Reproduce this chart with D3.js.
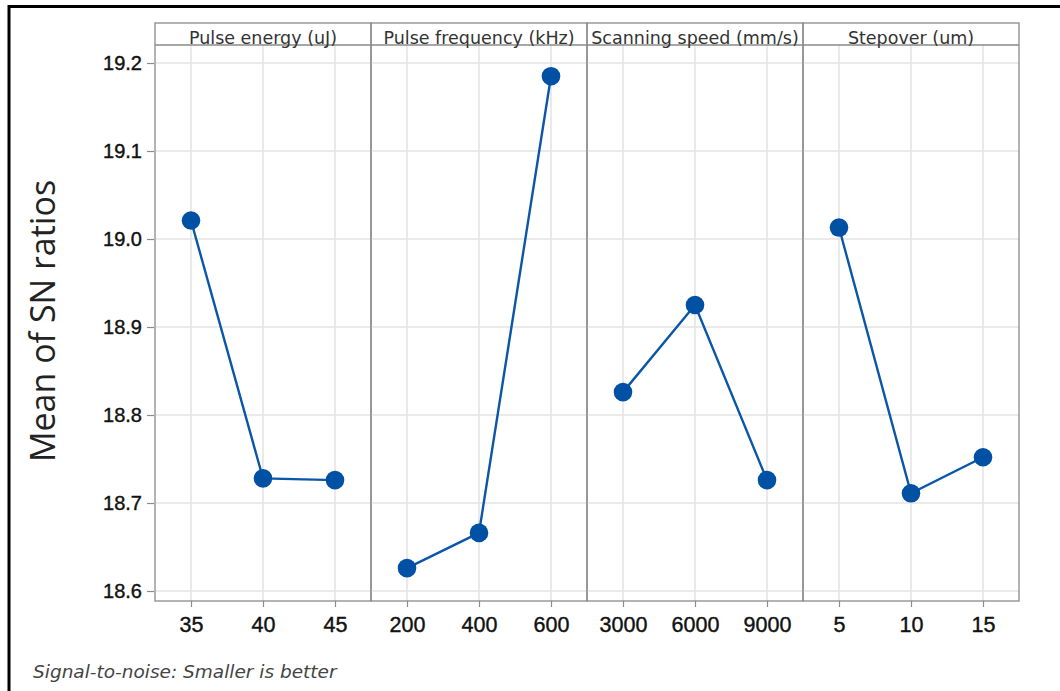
<!DOCTYPE html>
<html><head><meta charset="utf-8">
<script src="https://cdn.jsdelivr.net/npm/d3@7"></script>
<style>
body{margin:0;background:#fff;}
svg{display:block;font-family:"Open Sans","Noto Sans",sans-serif;}
</style></head>
<body><svg id="c" width="1060" height="691"></svg>
<script>
const factors = ["Pulse energy (uJ)", "Pulse frequency (kHz)", "Scanning speed (mm/s)", "Stepover (um)"];
const levels = [["35","40","45"],["200","400","600"],["3000","6000","9000"],["5","10","15"]];
const snMeans = [
  [19.021, 18.728, 18.726],
  [18.626, 18.666, 19.185],
  [18.826, 18.925, 18.726],
  [19.013, 18.711, 18.752]
];
const yTicks = [18.6, 18.7, 18.8, 18.9, 19.0, 19.1, 19.2];
const yTitle = "Mean of SN ratios";
const footnote = "Signal-to-noise: Smaller is better";

const svg = d3.select("#c");
const L = 155, panelW = 216, pTop = 23, headH = 22, pBottom = 601;
const y = d3.scaleLinear().domain([18.6, 19.2]).range([591, 63]);

svg.append("rect").attr("x",9).attr("y",6.5).attr("width",1100).attr("height",720)
  .attr("fill","none").attr("stroke","#000").attr("stroke-width",3);

const gridC = "#e3e3e3", frameC = "#8a8a8a", lineC = "#0c56a8", dotC = "#0050a4";

factors.forEach((f, i) => {
  const x0 = L + i*panelW;
  const x = d3.scalePoint().domain(levels[i]).range([x0, x0+panelW]).padding(0.5);
  const g = svg.append("g");
  g.selectAll(".hg").data(yTicks).enter().append("line")
    .attr("x1",x0).attr("x2",x0+panelW).attr("y1",d=>y(d)).attr("y2",d=>y(d))
    .attr("stroke",gridC).attr("stroke-width",1.5);
  g.selectAll(".vg").data(levels[i]).enter().append("line")
    .attr("x1",d=>x(d)).attr("x2",d=>x(d)).attr("y1",pTop+headH).attr("y2",pBottom)
    .attr("stroke",gridC).attr("stroke-width",1.5);
  const ax = d3.axisBottom(x).tickSize(6).tickPadding(10);
  const axg = svg.append("g").attr("transform",`translate(0,${pBottom})`).call(ax);
  axg.select(".domain").remove();
  axg.selectAll("line").attr("stroke",frameC).attr("stroke-width",1.2);
  axg.selectAll("text").attr("font-size",21.5).attr("fill","#111")
    .attr("stroke","#111").attr("stroke-width",0.4);
  const pts = levels[i].map((l,j)=>[x(l), y(snMeans[i][j])]);
  g.append("path").attr("d", d3.line()(pts)).attr("fill","none")
    .attr("stroke",lineC).attr("stroke-width",2.4);
  g.selectAll("circle").data(pts).enter().append("circle")
    .attr("cx",d=>d[0]).attr("cy",d=>d[1]).attr("r",9.3).attr("fill",dotC);
  svg.append("rect").attr("x",x0).attr("y",pTop).attr("width",panelW).attr("height",pBottom-pTop)
    .attr("fill","none").attr("stroke",frameC).attr("stroke-width",1.3);
  svg.append("line").attr("x1",x0).attr("x2",x0+panelW).attr("y1",pTop+headH).attr("y2",pTop+headH)
    .attr("stroke",frameC).attr("stroke-width",1.3);
  svg.append("text").attr("x",x0+panelW/2).attr("y",pTop+headH-1).attr("text-anchor","middle")
    .attr("font-family","'DejaVu Sans',sans-serif")
    .attr("font-size",17.5).attr("fill","#333").text(f);
});

const ay = d3.axisLeft(y).tickValues(yTicks).tickFormat(d3.format(".1f")).tickSize(7).tickPadding(5);
const ayg = svg.append("g").attr("transform",`translate(${L-1},0)`).call(ay);
ayg.select(".domain").remove();
ayg.selectAll("line").attr("stroke",frameC).attr("stroke-width",1.2);
ayg.selectAll("text").attr("font-size",20).attr("fill","#111")
  .attr("stroke","#111").attr("stroke-width",0.4);

svg.append("text").attr("transform","translate(55,321) rotate(-90)").attr("text-anchor","middle")
  .attr("font-size",34).attr("fill","#222").text(yTitle);

svg.append("text").attr("x",33).attr("y",678).attr("font-size",18.5).attr("font-style","italic")
  .attr("font-family","'DejaVu Sans',sans-serif")
  .attr("fill","#444").text(footnote);
</script></body></html>
